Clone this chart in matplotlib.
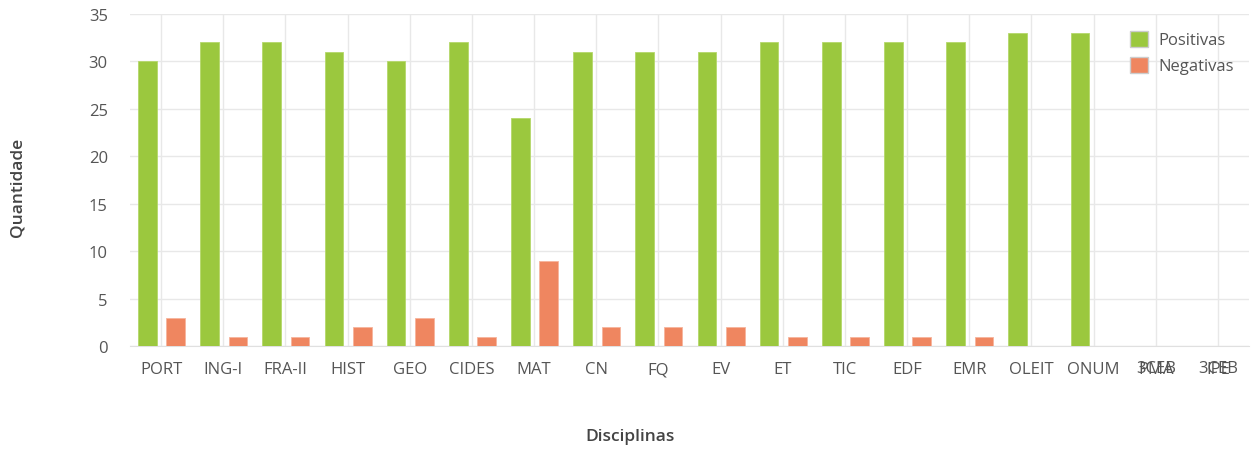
import matplotlib
matplotlib.use("Agg")
import matplotlib.pyplot as plt
import numpy as np

categories = ["PORT", "ING-I", "FRA-II", "HIST", "GEO", "CIDES", "MAT", "CN", "FQ",
              "EV", "ET", "TIC", "EDF", "EMR", "OLEIT", "ONUM", "PMA", "IPE"]
overlay_labels = {"PMA": "3CEB", "IPE": "3CEB"}
positivas = [30, 32, 32, 31, 30, 32, 24, 31, 31, 31, 32, 32, 32, 32, 33, 33, 0, 0]
negativas = [3, 1, 1, 2, 3, 1, 9, 2, 2, 2, 1, 1, 1, 1, 0, 0, 0, 0]

plt.rcParams['font.family'] = ['Open Sans', 'DejaVu Sans']

fig = plt.figure(figsize=(12.56, 4.52), dpi=100)
ax = fig.add_axes([130/1256, 1-347/452, 1119/1256, 332/452])

x = np.arange(len(categories))
w = 0.3
green = "#9BC83E"
orange = "#EF8660"
ax.bar(x - 0.22, positivas, w, color=green, edgecolor="#B5D86A", linewidth=0.6, label="Positivas", zorder=3)
ax.bar(x + 0.235, negativas, w, color=orange, edgecolor="#F6B49C", linewidth=0.6, label="Negativas", zorder=3)

ax.set_xlim(-0.5, len(categories) - 0.5)
ax.set_ylim(0, 35)
ax.set_yticks(range(0, 36, 5))
ax.set_xticks(x)
ax.set_xticklabels(categories)
for i, c in enumerate(categories):
    if c in overlay_labels:
        ax.text(i, -2.3, overlay_labels[c], ha="center", va="center", fontsize=12,
                color="#555555", transform=ax.transData, clip_on=False)

ax.grid(True, color="#E8E8E8", linewidth=1, zorder=0)
for s in ["top", "right", "left"]:
    ax.spines[s].set_visible(False)
ax.spines["bottom"].set_color("#E0E0E0")
ax.tick_params(axis="both", length=0, labelsize=12, labelcolor="#555555")
ax.tick_params(axis="x", pad=11)
ax.tick_params(axis="y", pad=16)

fig.text(18/1256, 1-187/452, "Quantidade", rotation=90, ha="center", va="center",
         fontsize=12.5, fontweight="semibold", color="#444444")
fig.text(630/1256, 1-437/452, "Disciplinas", ha="center", va="center",
         fontsize=12.5, fontweight="semibold", color="#444444")

leg = ax.legend(loc="upper right", bbox_to_anchor=(0.997, 0.985), frameon=False, fontsize=12,
                handlelength=1.1, handleheight=1.1, handletextpad=0.6, labelspacing=0.5,
                labelcolor="#555555", borderaxespad=0.3)
for h in leg.legend_handles:
    h.set_edgecolor("#CCCCCC")
    h.set_linewidth(1)

fig.savefig("out.png", dpi=100, facecolor="white")
